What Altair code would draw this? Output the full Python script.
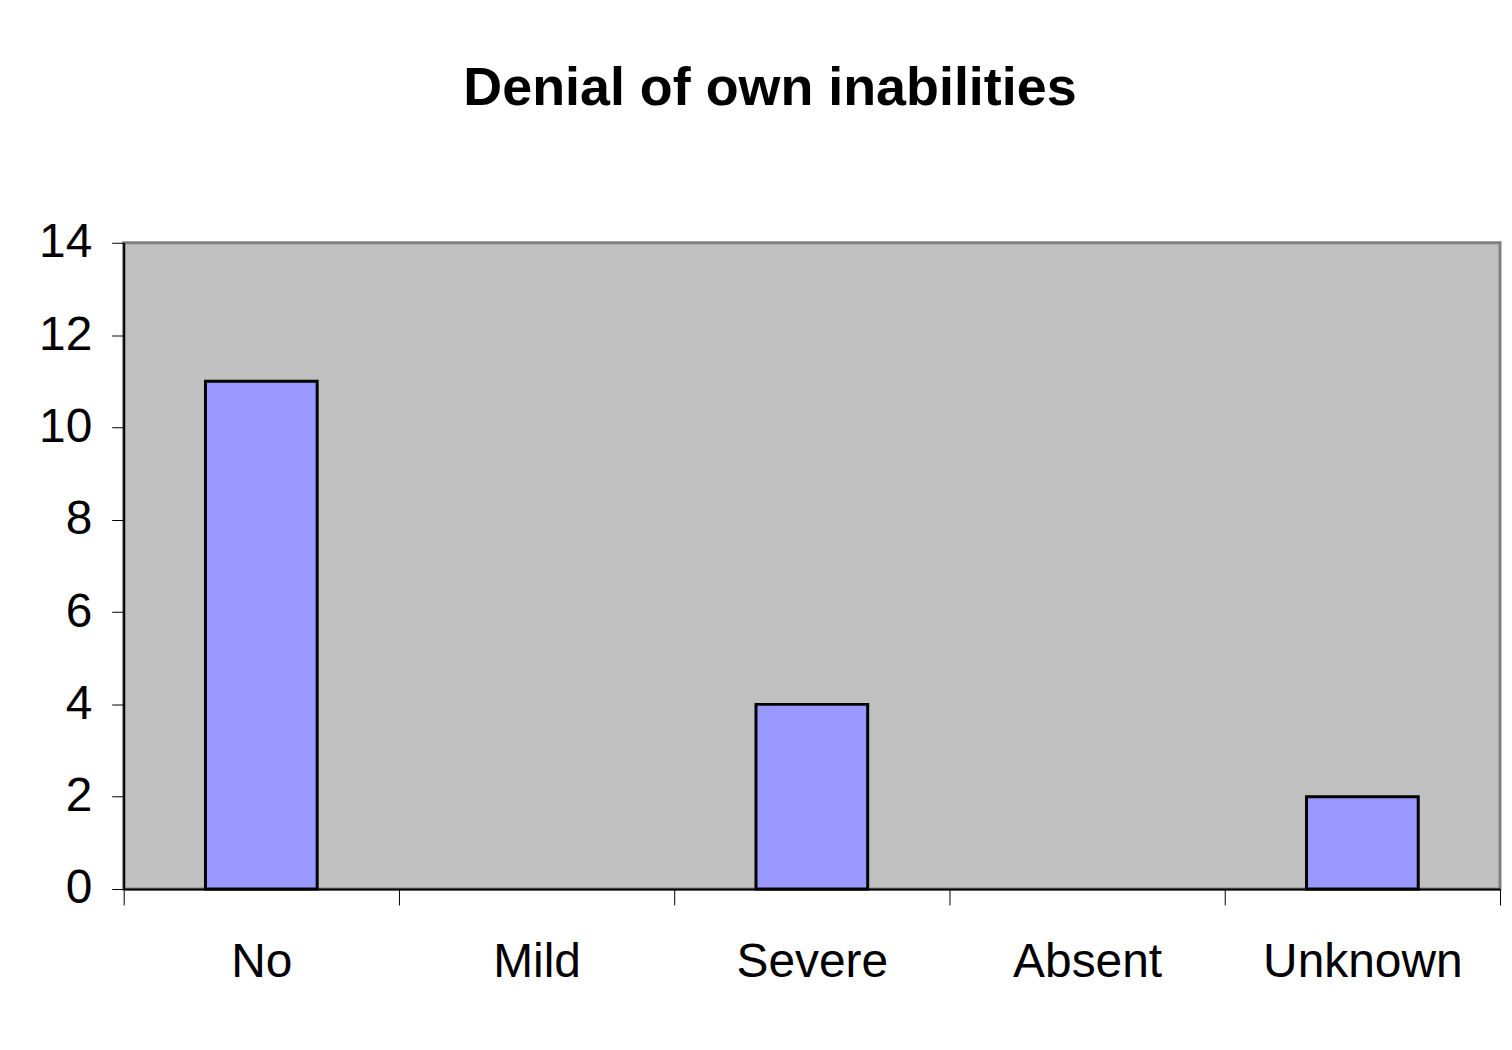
import altair as alt
import pandas as pd

categories = ["No", "Mild", "Severe", "Absent", "Unknown"]
counts = [11, 0, 4, 0, 2]
y_ticks = [0, 2, 4, 6, 8, 10, 12, 14]

df = pd.DataFrame({"category": categories, "count": counts})

FONT = "Liberation Sans, Arial, sans-serif"

chart = (
    alt.Chart(df)
    .transform_filter("datum.count > 0")
    .mark_bar(color="#9999ff", stroke="#000000", strokeWidth=3, size=112)
    .encode(
        x=alt.X(
            "category:N",
            sort=categories,
            scale=alt.Scale(domain=categories, paddingInner=0, paddingOuter=0),
            axis=alt.Axis(
                title=None,
                labelAngle=0,
                labelFont=FONT,
                labelFontSize=48,
                labelColor="#000000",
                labelPadding=34,
                labelLimit=0,
                tickBand="extent",
                tickSize=16,
                tickColor="#000000",
                tickWidth=1,
                domainColor="#000000",
                domainWidth=2,
            ),
        ),
        y=alt.Y(
            "count:Q",
            scale=alt.Scale(domain=[0, 14], nice=False),
            axis=alt.Axis(
                title=None,
                values=y_ticks,
                grid=False,
                labelFont=FONT,
                labelFontSize=48,
                labelColor="#000000",
                labelPadding=20,
                tickSize=12,
                tickColor="#000000",
                tickWidth=1,
                domainColor="#000000",
                domainWidth=2,
            ),
        ),
    )
    .properties(
        width=1380,
        height=648,
        title=alt.TitleParams(
            "Denial of own inabilities",
            font=FONT,
            fontSize=54,
            fontWeight="bold",
            color="#000000",
            anchor="middle",
            dx=-42,
            offset=103,
        ),
        autosize=alt.AutoSizeParams(type="none"),
        padding={"left": 116, "top": 234, "right": 4, "bottom": 150},
        background="#ffffff",
    )
    .configure_view(fill="#c0c0c0", stroke="#808080", strokeWidth=3)
)

chart.save("out.html", embed_options={"renderer": "svg", "actions": False})
